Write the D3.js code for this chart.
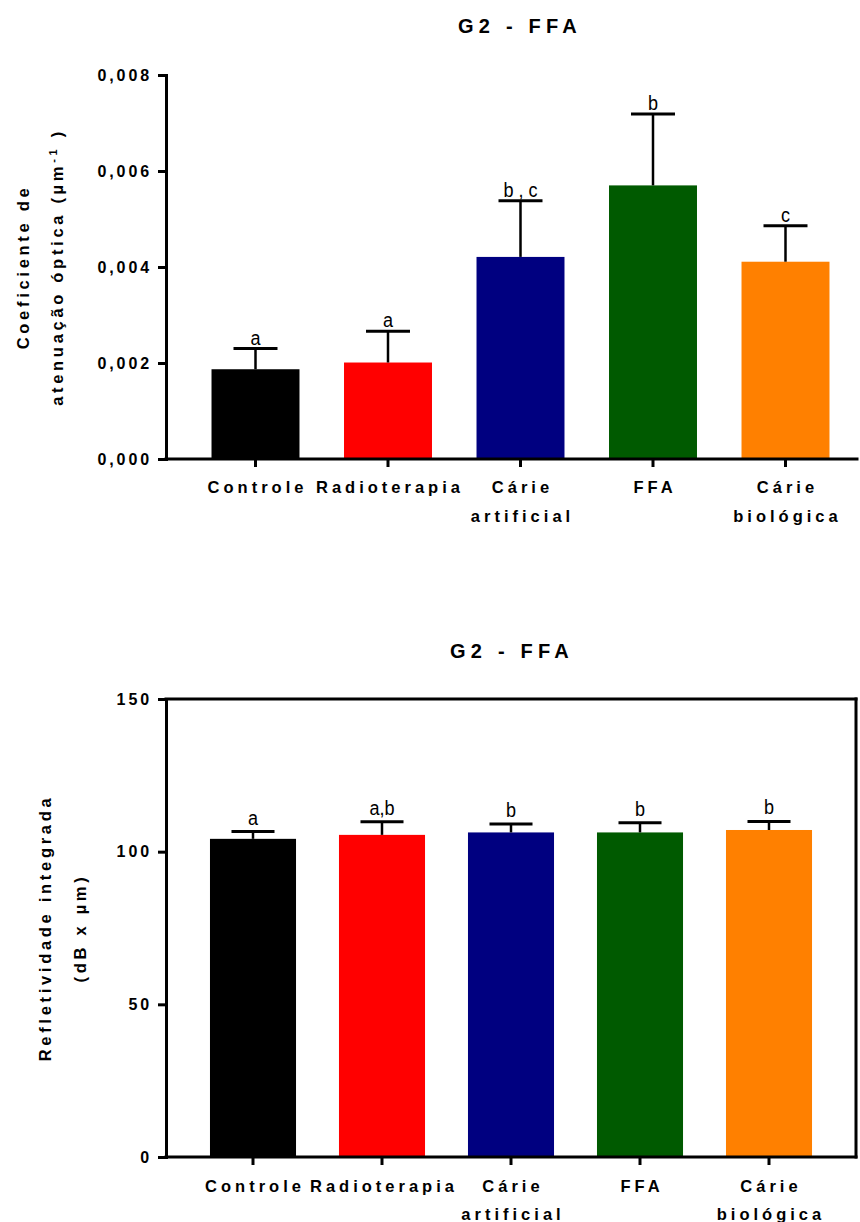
<!DOCTYPE html>
<html>
<head>
<meta charset="utf-8">
<script src="https://cdn.jsdelivr.net/npm/d3@7"></script>
<style>
  html, body { margin: 0; padding: 0; background: #fff; }
  svg { display: block; }
  .bold { font-family: "Liberation Sans", Arial, sans-serif; font-weight: bold; fill: #000; }
  .letter { font-family: "Liberation Sans", Arial, sans-serif; fill: #000; }
</style>
</head>
<body>
<script>
// Groups shown on both panels (each label may span two lines)
const categories = ["Controle", "Radioterapia", "Cárie artificial", "FFA", "Cárie biológica"];
const categoryLines = [["Controle"], ["Radioterapia"], ["Cárie", "artificial"], ["FFA"], ["Cárie", "biológica"]];
const barColors = ["#000000", "#ff0000", "#000080", "#005a00", "#ff8000"];

// Panel 1: optical attenuation coefficient (mean and SD)
const attenuationMean = [0.00187, 0.00201, 0.00421, 0.00570, 0.00411];
const attenuationSD   = [0.00043, 0.00065, 0.00117, 0.00149, 0.00075];
const attenuationLetters = ["a", "a", "b , c", "b", "c"];
const attenuationTicks = [0, 0.002, 0.004, 0.006, 0.008];

// Panel 2: integrated reflectivity (mean and SD)
const reflectivityMean = [104.2, 105.5, 106.3, 106.3, 107.1];
const reflectivitySD   = [2.4, 4.3, 2.8, 3.2, 2.8];
const reflectivityLetters = ["a", "a,b", "b", "b", "b"];
const reflectivityTicks = [0, 50, 100, 150];

const W = 860, H = 1222;
const svg = d3.select("body").append("svg").attr("width", W).attr("height", H);

function panel(cfg) {
  const g = svg.append("g");
  const y = d3.scaleLinear().domain(cfg.domain).range([cfg.bottom, cfg.top]);
  const x = d3.scaleBand().domain(categories).range(cfg.bandRange)
    .paddingInner(cfg.padInner).paddingOuter(cfg.padInner / 2);

  // title
  g.append("text").attr("class", "bold")
    .attr("x", cfg.titleX).attr("y", cfg.titleY)
    .attr("text-anchor", "middle")
    .style("font-size", "20px").style("letter-spacing", "5.2px")
    .text("G2 - FFA");

  // bars
  const data = categories.map((c, i) => ({ c, i, m: cfg.mean[i], sd: cfg.sd[i], lab: cfg.letters[i] }));
  g.selectAll("rect.bar").data(data).join("rect")
    .attr("x", d => x(d.c)).attr("width", x.bandwidth())
    .attr("y", d => y(d.m)).attr("height", d => y(0) - y(d.m))
    .attr("fill", d => barColors[d.i]);

  // upper error bars with significance letters
  const capHalf = x.bandwidth() / 4;
  const eb = g.selectAll("g.eb").data(data).join("g");
  eb.append("line")
    .attr("x1", d => x(d.c) + x.bandwidth() / 2).attr("x2", d => x(d.c) + x.bandwidth() / 2)
    .attr("y1", d => y(d.m)).attr("y2", d => y(d.m + d.sd))
    .attr("stroke", "#000").attr("stroke-width", 2.5);
  eb.append("line")
    .attr("x1", d => x(d.c) + x.bandwidth() / 2 - capHalf).attr("x2", d => x(d.c) + x.bandwidth() / 2 + capHalf)
    .attr("y1", d => y(d.m + d.sd)).attr("y2", d => y(d.m + d.sd))
    .attr("stroke", "#000").attr("stroke-width", 3);
  eb.append("text").attr("class", "letter")
    .attr("transform", d => `translate(${x(d.c) + x.bandwidth() / 2},${y(d.m + d.sd) - cfg.letterGap}) scale(0.86,1)`)
    .attr("text-anchor", "middle")
    .style("font-size", "21px")
    .text(d => d.lab);

  // frame / axis lines
  const lw = 3;
  g.append("line").attr("x1", cfg.left).attr("x2", cfg.right)
    .attr("y1", cfg.bottom).attr("y2", cfg.bottom)
    .attr("stroke", "#000").attr("stroke-width", lw).attr("stroke-linecap", "square");
  if (cfg.box) {
    g.append("line").attr("x1", cfg.left).attr("x2", cfg.right)
      .attr("y1", cfg.top).attr("y2", cfg.top)
      .attr("stroke", "#000").attr("stroke-width", lw).attr("stroke-linecap", "square");
    g.append("line").attr("x1", cfg.right).attr("x2", cfg.right)
      .attr("y1", cfg.top).attr("y2", cfg.bottom)
      .attr("stroke", "#000").attr("stroke-width", lw).attr("stroke-linecap", "square");
  }

  // y axis
  const yAxis = d3.axisLeft(y).tickValues(cfg.ticks).tickFormat(cfg.fmt)
    .tickSize(8).tickSizeOuter(0).tickPadding(6);
  const ya = g.append("g").attr("transform", `translate(${cfg.left},0)`).call(yAxis);
  ya.select(".domain").attr("stroke-width", lw).attr("stroke-linecap", "square");
  ya.selectAll(".tick line").attr("stroke-width", lw);
  ya.selectAll(".tick text").attr("class", "bold")
    .style("font-size", "16px").style("letter-spacing", "2.9px")
    .attr("font-family", null).attr("font-size", null);

  // x axis ticks and category labels
  const xAxis = d3.axisBottom(x).tickSize(8).tickSizeOuter(0).tickFormat("");
  const xa = g.append("g").attr("transform", `translate(0,${cfg.bottom})`).call(xAxis);
  xa.select(".domain").remove();
  xa.selectAll(".tick line").attr("stroke-width", lw);
  categories.forEach((c, i) => {
    const t = g.append("text").attr("class", "bold")
      .attr("text-anchor", "middle")
      .style("font-size", "16.5px").style("letter-spacing", "4px");
    categoryLines[i].forEach((ln, k) => {
      t.append("tspan")
        .attr("x", x(c) + x.bandwidth() / 2 + 2)
        .attr("y", cfg.catY + k * cfg.catLine)
        .text(ln);
    });
  });

  // y-axis title (two lines, rotated)
  const yc = (cfg.top + cfg.bottom) / 2;
  cfg.yTitle.forEach((parts, k) => {
    const t = g.append("text").attr("class", "bold")
      .attr("transform", `translate(${cfg.yTitleX[k]},${yc}) rotate(-90)`)
      .attr("text-anchor", "middle")
      .style("font-size", "16.5px").style("letter-spacing", "3.7px");
    parts.forEach(p => {
      const s = t.append("tspan").text(p.t);
      if (p.sup) s.attr("baseline-shift", "super").style("font-size", "11px");
    });
  });
}

const fmtComma = v => d3.format(".3f")(v).replace(".", ",");

panel({
  domain: [0, 0.008], top: 75, bottom: 459, left: 166, right: 857,
  bandRange: [189.25, 851.75], padInner: 0.336,
  mean: attenuationMean, sd: attenuationSD, letters: attenuationLetters,
  ticks: attenuationTicks, fmt: fmtComma, box: false, letterGap: 4,
  titleX: 520, titleY: 33,
  catY: 493, catLine: 28.5,
  yTitleX: [29, 63],
  yTitle: [[{ t: "Coeficiente de" }], [{ t: "atenuação óptica (µm" }, { t: "-1", sup: true }, { t: " )" }]]
});

panel({
  domain: [0, 150], top: 699, bottom: 1157, left: 166, right: 856,
  bandRange: [188.5, 833.5], padInner: 0.333,
  mean: reflectivityMean, sd: reflectivitySD, letters: reflectivityLetters,
  ticks: reflectivityTicks, fmt: d3.format("d"), box: true, letterGap: 7,
  titleX: 512, titleY: 658,
  catY: 1192, catLine: 28,
  yTitleX: [51, 86],
  yTitle: [[{ t: "Refletividade integrada" }], [{ t: "(dB x µm)" }]]
});
</script>
</body>
</html>
